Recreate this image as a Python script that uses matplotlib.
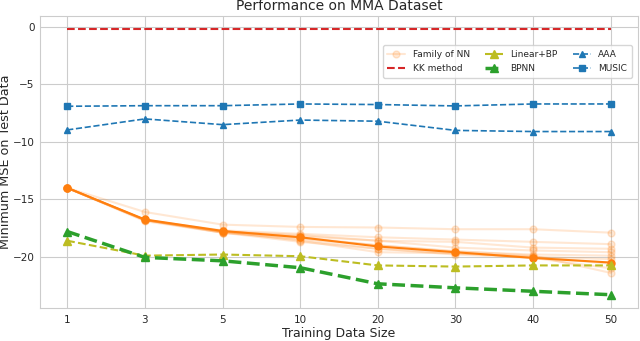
import matplotlib
matplotlib.use("Agg")
import matplotlib.pyplot as plt
import seaborn as sns
import numpy as np

sns.set_style("whitegrid")
plt.rcParams['font.family'] = ['DejaVu Sans']

sizes = ["1", "3", "5", "10", "20", "30", "40", "50"]

family_nn = [
    [-14.0, -16.1, -17.2, -17.4, -17.45, -17.6, -17.6, -17.9],
    [-14.0, -16.8, -17.7, -18.0, -18.3, -18.5, -18.7, -18.9],
    [-14.0, -16.8, -17.8, -18.1, -18.6, -18.7, -19.2, -19.3],
    [-14.0, -16.8, -17.8, -18.2, -18.6, -19.2, -19.45, -19.6],
    [-14.0, -16.8, -17.9, -18.4, -19.0, -19.55, -19.8, -19.9],
    [-14.0, -16.8, -17.9, -18.5, -19.3, -19.7, -20.0, -20.2],
    [-14.0, -16.8, -17.8, -18.6, -19.6, -19.7, -20.0, -20.6],
    [-14.0, -16.9, -17.9, -18.7, -19.3, -19.8, -20.1, -21.0],
    [-14.0, -16.8, -17.8, -18.3, -19.0, -19.5, -19.9, -21.4],
]
best_nn = [-14.0, -16.75, -17.75, -18.3, -19.1, -19.6, -20.1, -20.5]
kk_method = [-0.2] * 8
linear_bp = [-18.6, -19.9, -19.8, -19.95, -20.75, -20.85, -20.75, -20.75]
bpnn = [-17.8, -20.05, -20.35, -20.95, -22.35, -22.7, -23.0, -23.3]
aaa = [-8.96, -8.0, -8.5, -8.1, -8.2, -9.0, -9.1, -9.1]
music = [-6.9, -6.85, -6.85, -6.7, -6.75, -6.87, -6.7, -6.7]

fig = plt.figure(figsize=(6.4, 3.41), dpi=100)
ax = fig.add_axes([40/640, 1-308/341, 598/640, 292/341])

x = np.arange(len(sizes))
orange = '#ff7f0e'
fam_handle = None
for i, run in enumerate(family_nn):
    h, = ax.plot(x, run, '-o', color=orange, alpha=0.18, lw=1.5, ms=5)
    if fam_handle is None:
        fam_handle = h
ax.plot(x, best_nn, '-o', color=orange, lw=1.5, ms=5)

kk_h, = ax.plot(x, kk_method, '--', color='#d62728', lw=1.5)
lin_h, = ax.plot(x, linear_bp, '--^', color='#bcbd22', lw=1.5, ms=6)
bp_h, = ax.plot(x, bpnn, '--^', color='#2ca02c', lw=2.5, ms=6)
aaa_h, = ax.plot(x, aaa, '--^', color='#1f77b4', lw=1.2, ms=5)
mus_h, = ax.plot(x, music, '--s', color='#1f77b4', lw=1.2, ms=4.5)

ax.set_xticks(x)
ax.set_xticklabels(sizes)
ax.set_yticks([0, -5, -10, -15, -20])
ax.tick_params(labelsize=7.5, colors='.15', length=0)
ax.tick_params(axis='x', pad=5)
ax.tick_params(axis='y', pad=4)
ax.set_xlabel("Training Data Size", fontsize=9, labelpad=1.5)
ax.set_ylabel("Minimum MSE on Test Data", fontsize=9.2)
ax.yaxis.set_label_coords(-0.047, 0.5)
ax.set_title("Performance on MMA Dataset", fontsize=10, pad=4)

ax.legend([fam_handle, kk_h, lin_h, bp_h, aaa_h, mus_h],
          ["Family of NN", "KK method", "Linear+BP", "BPNN", "AAA", "MUSIC"],
          ncol=3, fontsize=6.5, loc='upper right', bbox_to_anchor=(0.997, 0.915),
          handlelength=2.0, columnspacing=1.7, labelspacing=0.6,
          borderpad=0.5, frameon=True)

fig.savefig("out.png", dpi=100)
